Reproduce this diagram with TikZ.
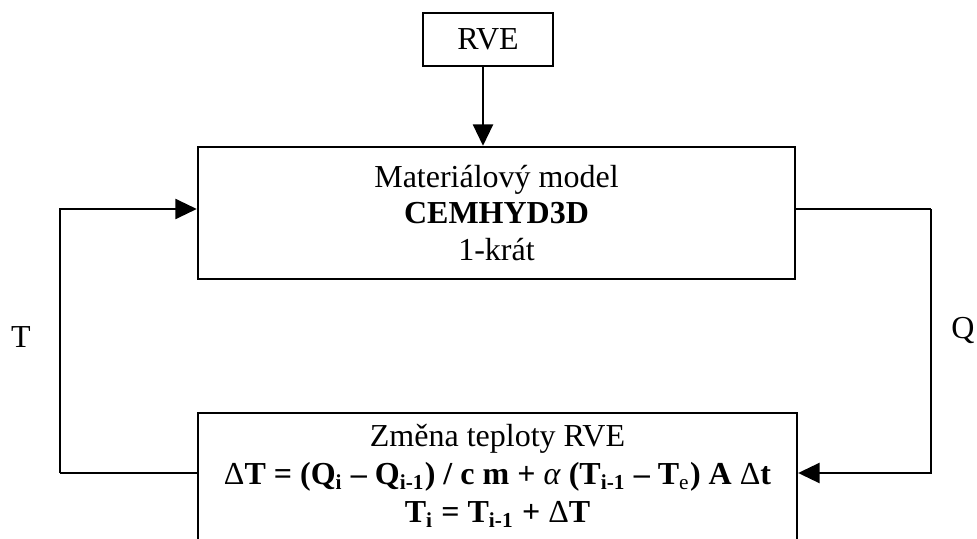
\documentclass[tikz,border=0pt]{standalone}
\usepackage{fontspec}
\setmainfont{Liberation Serif}
\usetikzlibrary{arrows.meta, positioning}

\tikzset{
  blk/.style  = {rectangle, draw=black, line width=0.9pt, align=center,
                 font=\fontsize{12}{13.8}\selectfont, inner sep=0pt},
  txt/.style  = {align=center, font=\fontsize{12}{14.3}\selectfont, inner sep=0pt},
  arr/.style  = {-{Triangle[length=8pt, width=7.5pt]}, line width=0.75pt},
  lnk/.style  = {line width=0.75pt},
}
\newcommand{\dlt}{\textnormal{Δ}}

\begin{document}
\begin{tikzpicture}[x=0.375pt, y=-0.375pt]
\useasboundingbox (0,0) rectangle (977,539);
\clip (0,0) rectangle (977,539);

% ---- Blocks -----------------------------------------------------------------
\node[blk, minimum width=223.9pt, minimum height=49.5pt] (model) at (496.5,213) {%
  Materiálový model\\\textbf{CEMHYD3D}\\1-krát};

\node[blk, minimum width=48.75pt, minimum height=19.9pt] (rve) at (488,39.5) {RVE};

\node[blk, anchor=north, minimum width=224.6pt, minimum height=60pt] (chgbox)
      at (497.5,412) {};
\node[txt] (chg) at (497.5,476) {%
  Změna teploty RVE\\
  {\bfseries \dlt T = (Q\textsubscript{i} – Q\textsubscript{i-1}) / c m +
   \textnormal{\textit{α}} (T\textsubscript{i-1} – T\textsubscript{\textnormal{e}}) A \dlt t}\\
  {\bfseries T\textsubscript{i} = T\textsubscript{i-1} + \dlt T}};

% ---- Loop corners -----------------------------------------------------------
\coordinate (mid) at (497.5,473);
\coordinate (lft) at (60,473);
\coordinate (rgt) at (931,209);

% ---- Labels -----------------------------------------------------------------
\node[txt] (tlab) at (21,337) {T};
\node[txt] (qlab) at (963,330) {Q};

% ---- Arrows -----------------------------------------------------------------
\draw[arr] (rve.south -| 483,0) -- (model.north -| 483,0);
\draw[lnk] (chgbox.west |- mid) -- (lft);
\draw[arr] (lft) |- (model.west |- rgt);
\draw[lnk] (model.east |- rgt) -- (rgt);
\draw[arr] (rgt) |- (chgbox.east |- mid);

\end{tikzpicture}
\end{document}
